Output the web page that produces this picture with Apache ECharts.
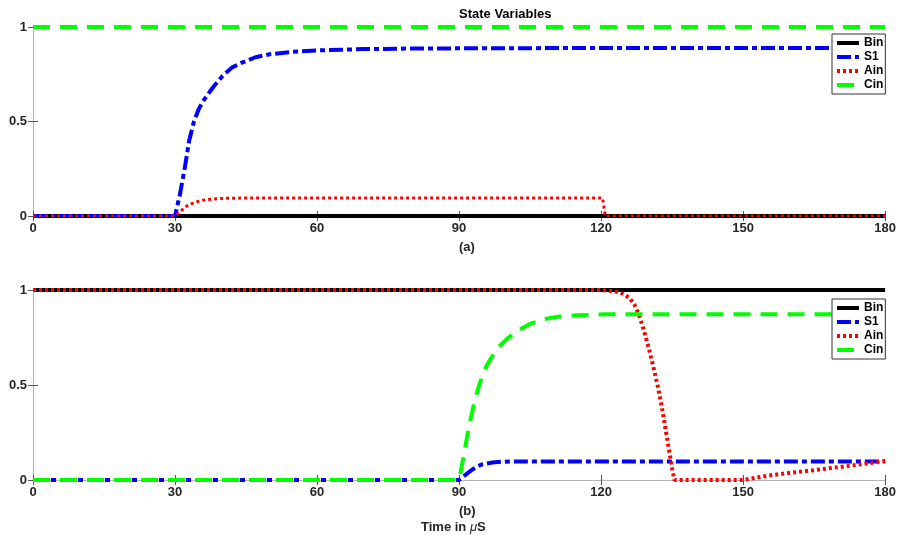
<!DOCTYPE html>
<html>
<head>
  <meta charset="utf-8">
  <title>State Variables</title>
  <script src="https://cdn.jsdelivr.net/npm/echarts@6/dist/echarts.min.js"></script>
  <style>
    html, body { margin: 0; padding: 0; background: #fff; }
    #chart { width: 899px; height: 535px; }
  </style>
</head>
<body>
<div id="chart"></div>
<script>
  // panel (a)
  const aBinT = [0, 180];
  const aBinV = [0, 0];
  const aS1T = [0, 30, 31, 32, 33, 34, 35, 36, 37, 38, 40, 42, 44, 47, 50, 55, 60, 70, 80, 100, 130, 180];
  const aS1V = [0, 0, 0.11, 0.245, 0.40, 0.50, 0.565, 0.61, 0.645, 0.68, 0.74, 0.785, 0.81, 0.84, 0.856, 0.869, 0.876, 0.883, 0.886, 0.888, 0.889, 0.889];
  const aAinT = [0, 30, 31, 32, 33, 34, 35, 36, 38, 40, 45, 120.3, 120.9, 180];
  const aAinV = [0, 0, 0.02, 0.045, 0.06, 0.07, 0.078, 0.084, 0.09, 0.093, 0.095, 0.095, 0, 0];
  const aCinT = [0, 180];
  const aCinV = [1, 1];

  // panel (b)
  const bBinT = [0, 180];
  const bBinV = [1, 1];
  const bS1T = [0, 90, 91, 92, 93, 94, 95, 97, 99, 102, 180];
  const bS1V = [0, 0, 0.02, 0.04, 0.058, 0.073, 0.083, 0.092, 0.096, 0.098, 0.098];
  const bAinT = [0, 120, 122, 124, 125, 126, 127, 128, 129, 130, 131, 132, 133, 134, 135, 135.5, 150, 155, 160, 165, 170, 175, 180];
  const bAinV = [1, 1, 0.995, 0.988, 0.975, 0.958, 0.925, 0.87, 0.79, 0.70, 0.60, 0.49, 0.36, 0.21, 0.06, 0, 0, 0.022, 0.038, 0.052, 0.067, 0.083, 0.1];
  const bCinT = [0, 90, 91, 92, 93, 94, 95, 96, 97, 98, 100, 102, 105, 108, 111, 115, 121, 180];
  const bCinV = [0, 0, 0.13, 0.27, 0.385, 0.48, 0.555, 0.61, 0.65, 0.69, 0.74, 0.78, 0.822, 0.847, 0.86, 0.867, 0.872, 0.873];

  const xTicks = [0, 30, 60, 90, 120, 150, 180];
  const yTicks = [0, 0.5, 1];
  const names = ['Bin', 'S1', 'Ain', 'Cin'];

  const font = 'Liberation Sans, Arial, sans-serif';
  const txt = '#262626';

  function pts(t, v) {
    return t.map((x, i) => [x, v[i]]);
  }

  function xAx(grid, pos, labels) {
    return {
      type: 'value', gridIndex: grid, position: pos,
      min: xTicks[0], max: xTicks[xTicks.length - 1], interval: 30,
      axisLine: { show: true, lineStyle: { color: '#b4b4b4', width: 1 } },
      axisTick: { show: true, inside: true, length: 5, lineStyle: { color: '#555' } },
      axisLabel: { show: labels, margin: 6, color: txt, fontSize: 13, fontWeight: 'bold', fontFamily: font },
      splitLine: { show: false }
    };
  }
  function yAx(grid, pos, labels) {
    return {
      type: 'value', gridIndex: grid, position: pos,
      min: yTicks[0], max: yTicks[yTicks.length - 1], interval: 0.5,
      axisLine: { show: true, lineStyle: { color: '#b4b4b4', width: 1 } },
      axisTick: { show: true, inside: true, length: 5, lineStyle: { color: '#555' } },
      axisLabel: { show: labels, margin: 6, color: txt, fontSize: 13, fontWeight: 'bold', fontFamily: font,
        formatter: v => String(v) },
      splitLine: { show: false }
    };
  }

  function line(name, idx, data, color, width, type) {
    return {
      name: name, type: 'line', xAxisIndex: idx, yAxisIndex: idx,
      data: data, symbol: 'none', animation: false,
      lineStyle: { color: color, width: width, type: type, cap: 'butt' },
      itemStyle: { color: color }
    };
  }

  function legend(top) {
    return {
      data: names, orient: 'vertical', left: 832, top: top,
      itemWidth: 22, itemHeight: 12, itemGap: 2,
      padding: [3, 2, 3, 3],
      borderColor: '#333', borderWidth: 1, backgroundColor: '#fff',
      selectedMode: false,
      itemStyle: { color: 'rgba(0,0,0,0)', borderColor: 'rgba(0,0,0,0)', borderWidth: 0 },
      lineStyle: { width: 4 },
      textStyle: { color: '#000', fontSize: 12, fontWeight: 'bold', fontFamily: font }
    };
  }

  const chart = echarts.init(document.getElementById('chart'));
  chart.setOption({
    animation: false,
    backgroundColor: '#fff',
    grid: [
      { left: 33, right: 13, top: 27, height: 189 },
      { left: 33, right: 13, top: 290, height: 190 }
    ],
    xAxis: [xAx(0, 'bottom', true), xAx(1, 'bottom', true), xAx(0, 'top', false), xAx(1, 'top', false)],
    yAxis: [yAx(0, 'left', true), yAx(1, 'left', true), yAx(0, 'right', false), yAx(1, 'right', false)],
    legend: [legend(34), legend(299)],
    series: [
      line('Bin', 0, pts(aBinT, aBinV), '#000000', 4, 'solid'),
      line('S1', 0, pts(aS1T, aS1V), '#0000ff', 4, [14, 4, 5, 4]),
      line('Ain', 0, pts(aAinT, aAinV), '#ff0000', 3, [3, 3]),
      line('Cin', 0, pts(aCinT, aCinV), '#00ff00', 4, [17, 10]),
      line('Bin', 1, pts(bBinT, bBinV), '#000000', 4, 'solid'),
      line('S1', 1, pts(bS1T, bS1V), '#0000ff', 4, [14, 4, 5, 4]),
      line('Ain', 1, pts(bAinT, bAinV), '#ff0000', 4, [3, 3]),
      line('Cin', 1, pts(bCinT, bCinV), '#00ff00', 4, [17, 10])
    ],
    graphic: [
      { type: 'text', left: 459, top: 8, style: { text: 'State Variables', fill: '#000', font: 'bold 13px ' + font, textAlign: 'center' } },
      { type: 'text', left: 459, top: 241, style: { text: '(a)', fill: txt, font: 'bold 13px ' + font, textAlign: 'center' } },
      { type: 'text', left: 459, top: 505, style: { text: '(b)', fill: txt, font: 'bold 13px ' + font, textAlign: 'center' } },
      { type: 'text', left: 421, top: 521, style: {
          text: '{n|Time in }{i|μ}{n|S}',
          rich: {
            n: { fill: txt, font: 'bold 13px ' + font },
            i: { fill: txt, font: 'italic 13px ' + font }
          }
      } }
    ]
  });
</script>
</body>
</html>
